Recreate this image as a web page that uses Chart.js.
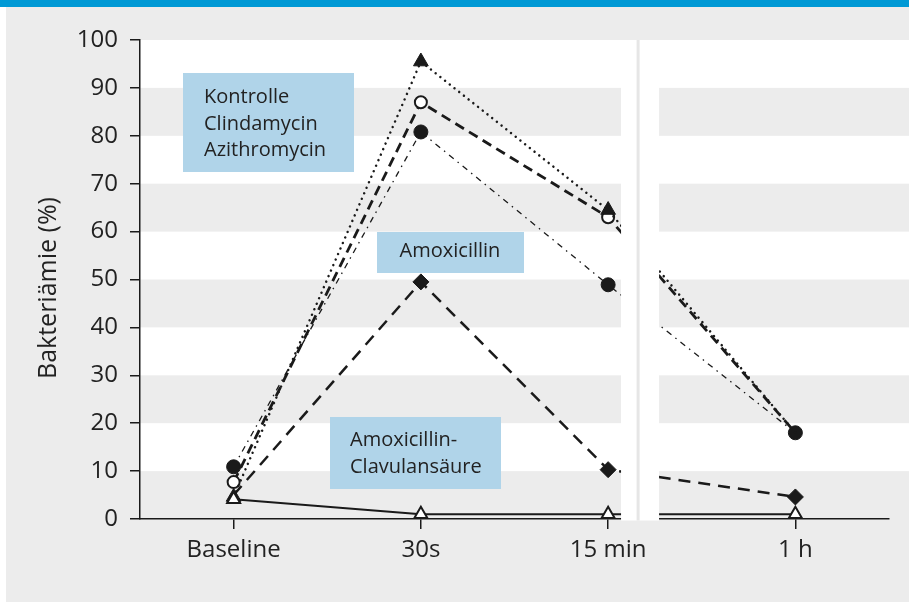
<!DOCTYPE html>
<html>
<head>
<meta charset="utf-8">
<script src="https://cdn.jsdelivr.net/npm/chart.js@4.4.0/dist/chart.umd.min.js"></script>
<style>
  html, body { margin: 0; padding: 0; background: #ececec; }
  .wrap { position: relative; width: 909px; height: 602px; }
</style>
</head>
<body>
<div class="wrap"><canvas id="chart"></canvas></div>
<script>
        // Werte (Bakteriämie in %)
        const timepoints = ['Baseline', '30s', '15 min', '1 h'];
        const kontrolle = [4.6, 95.5, 64.5, 18];
        const clindamycin = [7.7, 87, 63, 18];
        const azithromycin = [10.9, 80.8, 48.9, 18];
        const amoxicillin = [5, 49.5, 10.3, 4.6];
        const amoxClav = [4.1, 1, 1, 1];
        const yTicks = [0, 10, 20, 30, 40, 50, 60, 70, 80, 90, 100];
        const yTitle = 'Bakteriämie (%)';
        const groupLabels = [
            ['Kontrolle', 'Clindamycin', 'Azithromycin'],
            ['Amoxicillin'],
            ['Amoxicillin-', 'Clavulansäure']
        ];

        const ink = '#1a1a1a';
        const textColor = '#222';
        const fontFamily = '"Open Sans", "Noto Sans", sans-serif';
        Chart.defaults.font.family = fontFamily;

        // Hintergrund, Streifen, blaue Linie oben
        const backdrop = {
            id: 'backdrop',
            beforeDraw(chart) {
                const { ctx, chartArea: a, scales: { y } } = chart;
                ctx.save();
                ctx.fillStyle = '#ececec';
                ctx.fillRect(0, 0, chart.width, chart.height);
                ctx.fillStyle = '#ffffff';
                ctx.fillRect(0, 0, 6, chart.height);
                ctx.fillStyle = '#0099d5';
                ctx.fillRect(0, 0, chart.width, 7);
                ctx.fillStyle = '#ffffff';
                for (let v = 10; v < 100; v += 20) {
                    const top = y.getPixelForValue(v + 10);
                    const bottom = y.getPixelForValue(v);
                    ctx.fillRect(a.left, top, chart.width - a.left, bottom - top);
                }
                ctx.restore();
            }
        };

        // Achsenunterbrechung zwischen 15 min und 1 h, Beschriftungskästen
        const overlay = {
            id: 'overlay',
            afterDatasetsDraw(chart) {
                const { ctx, chartArea: a, scales: { x } } = chart;
                ctx.save();
                const g0 = x.getPixelForValue(2.069);
                const g1 = x.getPixelForValue(2.272);
                ctx.fillStyle = '#ffffff';
                ctx.fillRect(g0, a.top, g1 - g0, a.bottom - a.top + 1.5);
                ctx.fillStyle = '#e6e6e6';
                const gm = x.getPixelForValue(2.16);
                ctx.fillRect(gm - 1.5, a.top, 3, a.bottom - a.top + 1.5);

                const boxes = [
                    { x: 183, y: 73, w: 171, h: 99, tx: 204, ty: 103, align: 'left' },
                    { x: 377, y: 232, w: 147, h: 41, tx: 450, ty: 257, align: 'center' },
                    { x: 330, y: 417, w: 171, h: 72, tx: 350, ty: 446, align: 'left' }
                ];
                ctx.font = '20px ' + fontFamily;
                ctx.textBaseline = 'alphabetic';
                boxes.forEach((b, i) => {
                    ctx.fillStyle = '#b0d4e9';
                    ctx.fillRect(b.x, b.y, b.w, b.h);
                    ctx.fillStyle = textColor;
                    ctx.textAlign = b.align;
                    groupLabels[i].forEach((line, k) => {
                        ctx.fillText(line, b.tx, b.ty + k * 26.5);
                    });
                });
                ctx.restore();
            },
            afterDraw(chart) {
                const { ctx } = chart;
                ctx.save();
                ctx.translate(49, 288);
                ctx.rotate(-Math.PI / 2);
                ctx.font = '25px ' + fontFamily;
                ctx.fillStyle = textColor;
                ctx.textAlign = 'center';
                ctx.textBaseline = 'middle';
                ctx.fillText(yTitle, 0, 0);
                ctx.restore();
            }
        };

        new Chart(document.getElementById('chart'), {
            type: 'line',
            data: {
                labels: timepoints,
                datasets: [
                    {
                        label: 'Amoxicillin-Clavulansäure',
                        data: amoxClav,
                        borderColor: ink,
                        borderWidth: 2,
                        pointStyle: 'triangle',
                        pointRadius: 7.5,
                        pointBackgroundColor: '#ffffff',
                        pointBorderColor: ink,
                        pointBorderWidth: 2,
                        order: 0
                    },
                    {
                        label: 'Kontrolle',
                        data: kontrolle,
                        borderColor: ink,
                        borderWidth: 2.5,
                        borderDash: [0.01, 6],
                        borderCapStyle: 'round',
                        pointStyle: 'triangle',
                        pointRadius: [8.5, 8.5, 8.5, 0],
                        pointBackgroundColor: ink,
                        pointBorderColor: ink,
                        pointBorderWidth: 1,
                        order: 1
                    },
                    {
                        label: 'Clindamycin',
                        data: clindamycin,
                        borderColor: ink,
                        borderWidth: 2.8,
                        borderDash: [10, 6],
                        pointStyle: 'circle',
                        pointRadius: [6, 6, 6, 0],
                        pointBackgroundColor: '#ffffff',
                        pointBorderColor: ink,
                        pointBorderWidth: 2,
                        order: 2
                    },
                    {
                        label: 'Azithromycin',
                        data: azithromycin,
                        borderColor: ink,
                        borderWidth: 1.3,
                        borderDash: [6, 5, 1.5, 5],
                        pointStyle: 'circle',
                        pointRadius: 7,
                        pointBackgroundColor: ink,
                        pointBorderColor: ink,
                        pointBorderWidth: 1,
                        order: 3
                    },
                    {
                        label: 'Amoxicillin',
                        data: amoxicillin,
                        borderColor: ink,
                        borderWidth: 2.5,
                        borderDash: [12, 8],
                        pointStyle: 'rectRot',
                        pointRadius: [0, 8, 8, 8],
                        pointBackgroundColor: ink,
                        pointBorderColor: ink,
                        pointBorderWidth: 1,
                        order: 4
                    }
                ]
            },
            options: {
                responsive: true,
                maintainAspectRatio: false,
                animation: false,
                layout: {
                    padding: { top: 40, right: 20, left: 0, bottom: 0 }
                },
                plugins: {
                    legend: { display: false },
                    tooltip: { enabled: false }
                },
                elements: {
                    line: { tension: 0 }
                },
                scales: {
                    x: {
                        type: 'category',
                        offset: true,
                        afterFit(s) { s.height = 83; },
                        border: { color: ink, width: 1.5 },
                        grid: {
                            offset: false,
                            drawOnChartArea: false,
                            tickLength: 10,
                            color: ink,
                            lineWidth: 1.5
                        },
                        ticks: {
                            padding: 7,
                            color: textColor,
                            font: { size: 24 },
                            maxRotation: 0,
                            autoSkip: false
                        }
                    },
                    y: {
                        min: 0,
                        max: 100,
                        afterFit(s) { s.width = 140; },
                        afterBuildTicks(s) { s.ticks = yTicks.map(v => ({ value: v })); },
                        border: { color: ink, width: 1.5 },
                        grid: {
                            drawOnChartArea: false,
                            tickLength: 10,
                            color: ink,
                            lineWidth: 1.5
                        },
                        ticks: {
                            padding: 12,
                            color: textColor,
                            font: { size: 24 }
                        }
                    }
                }
            },
            plugins: [backdrop, overlay]
        });
</script>
</body>
</html>
